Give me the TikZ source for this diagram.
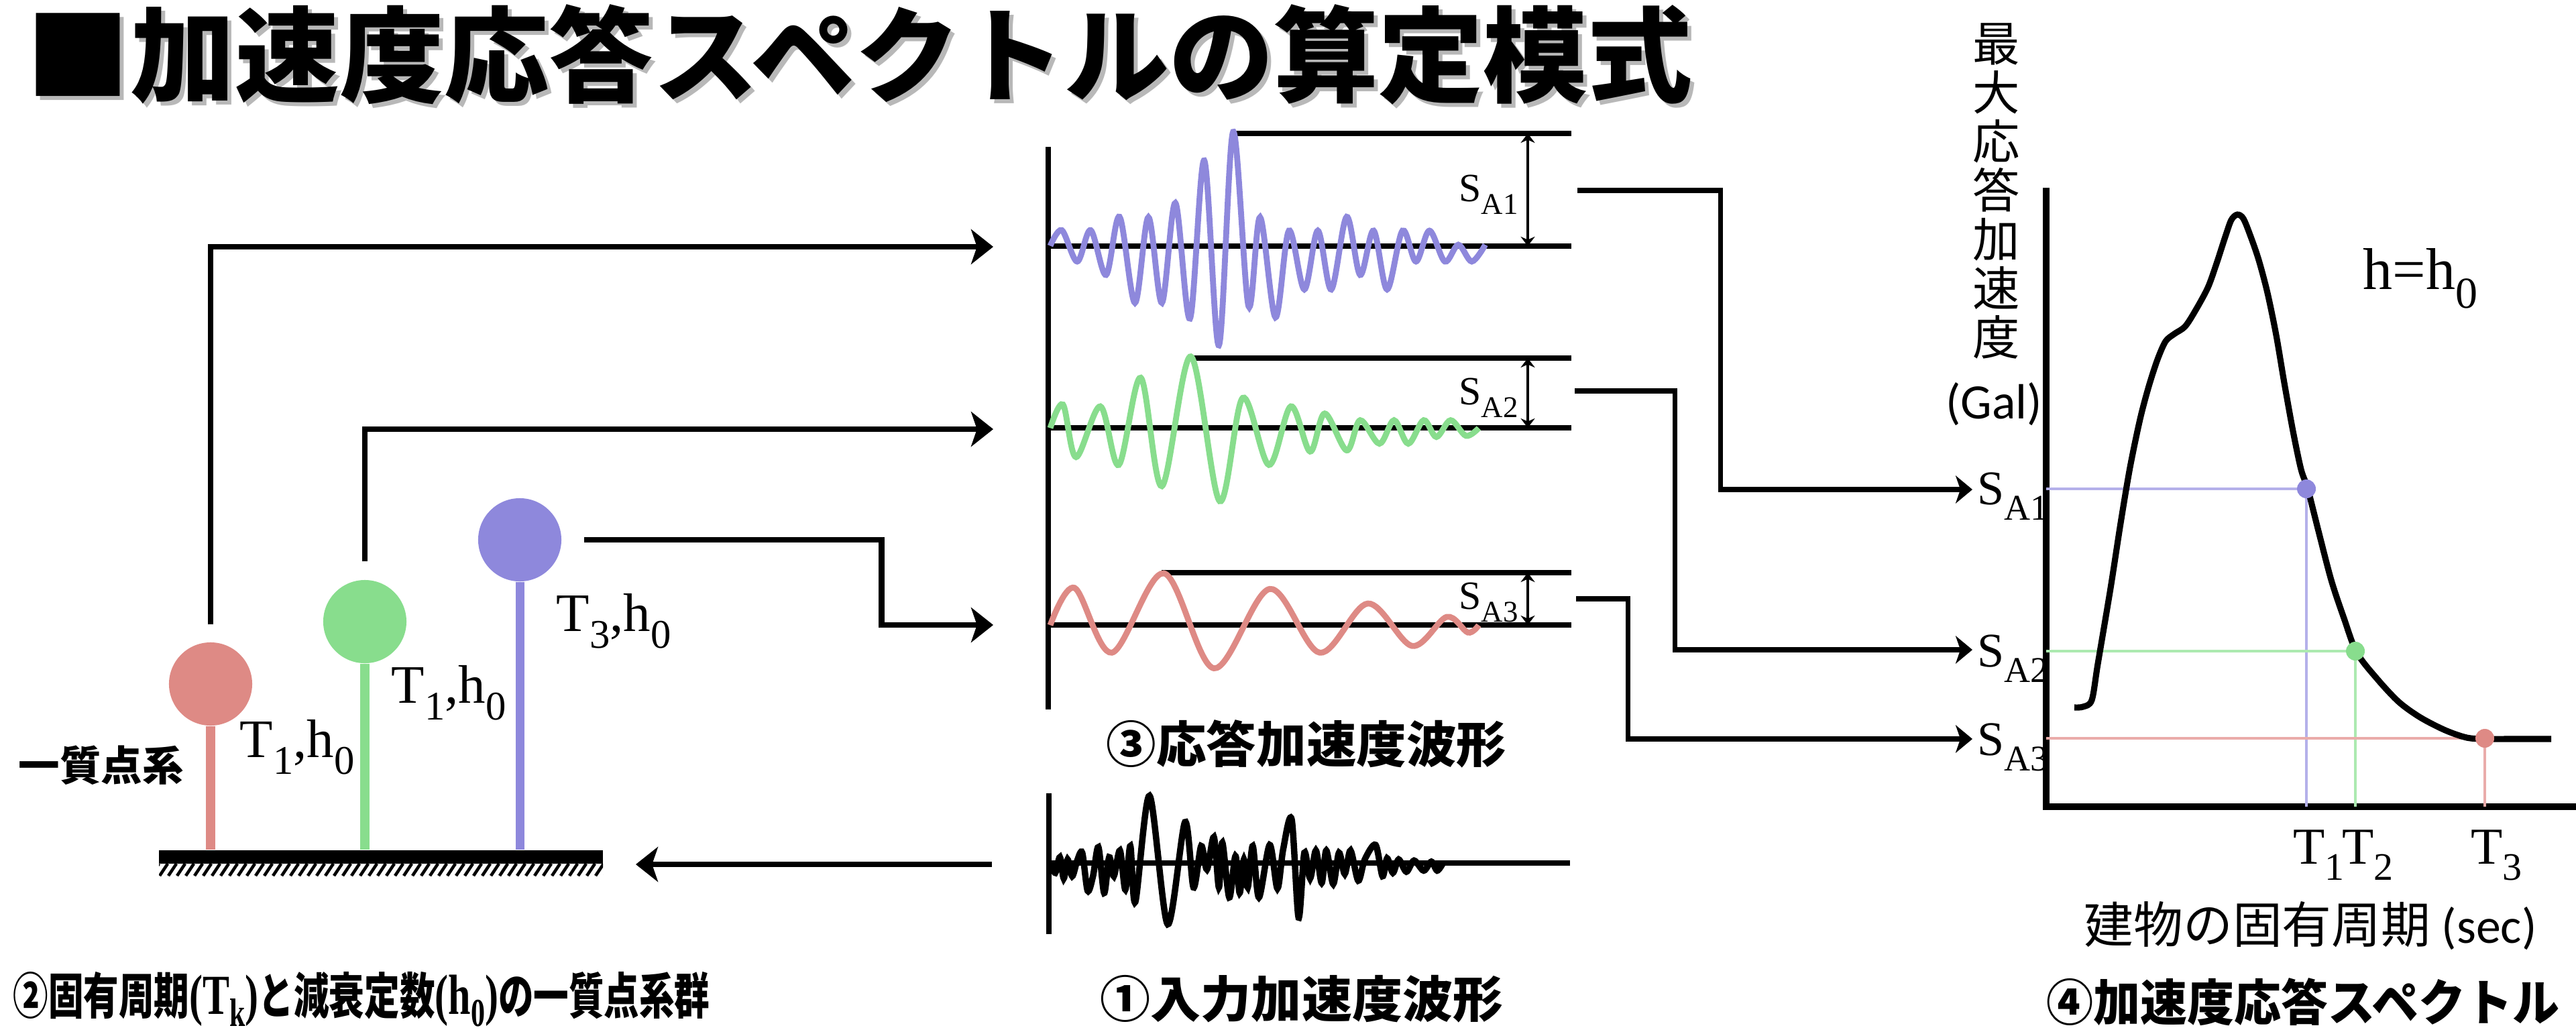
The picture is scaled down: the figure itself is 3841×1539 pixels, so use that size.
\documentclass[tikz,border=0pt]{standalone}
\usepackage{fontspec}
\usepackage{graphicx}
\setmainfont{Liberation Serif}
\newfontfamily\jp{Noto Sans CJK JP}
\newfontfamily\galfont{Carlito}
\usetikzlibrary{arrows.meta}
\definecolor{cred}{RGB}{222,138,133}
\definecolor{cgreen}{RGB}{136,221,141}
\definecolor{cblue}{RGB}{142,136,220}
\definecolor{lred}{RGB}{234,172,170}
\definecolor{lgreen}{RGB}{172,234,176}
\definecolor{lblue}{RGB}{180,176,234}
\newcommand\dn[1]{\raisebox{-0.32em}{\scalebox{0.75}{#1}}}
\newcommand\dnn[1]{\raisebox{-0.22em}{\scalebox{0.7}{#1}}}
\newcommand\sr[1]{{\rmfamily\fontsize{24}{24}\selectfont #1}}
\newcommand\labtwo{②固有周期\sr{(T\dnn{k})}と減衰定数\sr{(h\dnn{0})}の一質点系群}
\newlength\labw
\begin{document}
\settowidth{\labw}{\jp\bfseries\fontsize{21}{21}\selectfont \labtwo}%
\pgfmathsetmacro\labsx{10.38cm/\labw}%
\begin{tikzpicture}[x=0.01cm, y=-0.01cm,
  bigconn/.style={line width=2.5pt, -{Stealth[length=9.4pt,width=14.8pt,inset=2.5pt]}},
  sconn/.style={line width=2pt, -{Stealth[length=7.1pt,width=11.7pt,inset=2pt]}},
  plain/.style={line width=2.2pt},
  ball/.style={circle, inner sep=0pt, minimum size=1.24cm, fill=#1},
  stem/.style={line width=3.7pt, draw=#1},
  wave/.style={line width=2.5pt, draw=#1},
  dim/.style={line width=1.4pt, {Stealth[length=4pt,width=6pt]}-{Stealth[length=4pt,width=6pt]}},
  guide/.style={line width=1.4pt, draw=#1},
  lbl/.style={inner sep=0pt, anchor=base west},
  dot/.style={circle, inner sep=0pt, minimum size=0.28cm, fill=#1},
  jpb/.style={inner sep=0pt, font=\jp\bfseries\fontsize{21}{21}\selectfont}
]
\useasboundingbox (0,0) rectangle (3841,1539);

% ---------- title ----------
\node[inner sep=0pt, text=black!28, font=\jp\bfseries\fontsize{44}{44}\selectfont] (titleshadow) at (1287,87) {\resizebox{24.84cm}{\height}{■加速度応答スペクトルの算定模式}};
\node[inner sep=0pt, font=\jp\bfseries\fontsize{44}{44}\selectfont] (title) at (1281,81) {\resizebox{24.84cm}{\height}{■加速度応答スペクトルの算定模式}};

% ---------- one-mass systems ----------
\node[fill=black, inner sep=0pt, minimum width=6.62cm, minimum height=0.2cm] (gnd) at (568,1278) {};
\begin{scope}
  \clip (237,1288) rectangle (899,1306);
  \foreach \i in {225,238,...,910} \draw[line width=1.3pt] (\i,1306) -- (\i+12,1288);
\end{scope}
\node[ball=cred] (rb) at (314,1020) {};
\node[ball=cgreen] (gb) at (544,927) {};
\node[ball=cblue] (bb) at (775,805) {};
\draw[stem=cred] (rb.south) -- (rb.south |- gnd.north);
\draw[stem=cgreen] (gb.south) -- (gb.south |- gnd.north);
\draw[stem=cblue] (bb.south) -- (bb.south |- gnd.north);
\node[lbl, font=\fontsize{23}{23}\selectfont] (lr) at (357,1129) {T\dn{1},h\dn{0}};
\node[lbl, font=\fontsize{23}{23}\selectfont] (lg) at (583,1048) {T\dn{1},h\dn{0}};
\node[lbl, font=\fontsize{23}{23}\selectfont] (lb) at (829,941) {T\dn{3},h\dn{0}};
\node[inner sep=0pt, font=\jp\bfseries\fontsize{17.5}{17.5}\selectfont] (sdof) at (151,1141) {一質点系};

% connectors to response waves
\coordinate (w1in) at (1481,368);
\coordinate (w2in) at (1481,640);
\coordinate (w3in) at (1481,932);
\draw[bigconn] ([yshift=0.26cm]rb.north) |- (w1in);
\draw[bigconn] ([yshift=0.27cm]gb.north) |- (w2in);
\draw[bigconn] ([xshift=0.33cm]bb.east) -- ++(444,0) |- (w3in);

% ---------- response waves ----------
\draw[line width=2pt] (1563,219) -- (1563,1058);
\draw[plain] (1563,367) -- (2343,367);
\draw[plain] (1839,199) -- (2343,199);
\draw[plain] (1563,638) -- (2343,638);
\draw[plain] (1778,534) -- (2343,534);
\draw[plain] (1563,932) -- (2343,932);
\draw[plain] (1732,854) -- (2343,854);
\draw[dim] (2278,199) -- (2278,367);
\draw[dim] (2278,534) -- (2278,638);
\draw[dim] (2278,854) -- (2278,932);
\node[lbl, font=\fontsize{17}{17}\selectfont] (wsa1) at (2175,300) {S\dn{A1}};
\node[lbl, font=\fontsize{17}{17}\selectfont] (wsa2) at (2175,603) {S\dn{A2}};
\node[lbl, font=\fontsize{17}{17}\selectfont] (wsa3) at (2175,908) {S\dn{A3}};

\begin{scope}[shift={(1500,180)}, xscale=0.574, yscale=0.3333]
\draw[wave=cblue] plot[smooth, tension=0.55] coordinates {(115,560) (145,490) (185,630) (220,490) (260,690) (295,430) (335,815) (370,432) (405,815) (440,368) (478,885) (515,178) (553,1005) (590,50) (630,830) (660,432) (700,880) (735,492) (775,755) (810,492) (845,755) (885,430) (920,690) (955,492) (990,755) (1030,492) (1065,630) (1100,492) (1140,630) (1175,555) (1210,630) (1245,555)};
\end{scope}
\begin{scope}[shift={(1500,500)}, xscale=0.574, yscale=0.3333]
\draw[wave=cgreen] plot[smooth, tension=0.55] coordinates {(115,415) (148,310) (182,545) (245,318) (293,580) (350,190) (405,675) (480,95) (555,742) (615,280) (683,580) (740,318) (790,520) (828,350) (885,515) (920,380) (970,485) (1008,380) (1045,485) (1085,380) (1118,455) (1155,380) (1195,450) (1228,415)};
\draw[wave=cred] plot[smooth, tension=0.55] coordinates {(115,1297) (178,1130) (275,1420) (410,1065) (540,1490) (685,1135) (815,1420) (940,1200) (1055,1390) (1145,1260) (1200,1330) (1228,1297)};
\end{scope}
\node[jpb] (l3) at (1948,1109) {\resizebox{5.96cm}{\height}{③応答加速度波形}};

% ---------- input wave ----------
\draw[line width=2pt] (1564,1183) -- (1564,1393);
\draw[plain] (1564,1287) -- (2341,1287);
\begin{scope}[shift={(1500,1150)}, xscale=0.574, yscale=0.3333]
\draw[line width=2.7pt] plot[smooth, tension=0.5] coordinates {(118,412) (128,455) (140,385) (150,480) (160,395) (172,470) (185,400) (198,365) (212,535) (226,470) (240,340) (255,545) (268,385) (280,470) (296,355) (310,530) (323,335) (336,585) (373,110) (420,685) (465,228) (487,520) (507,335) (522,440) (540,295) (553,520) (562,320) (580,565) (596,380) (607,545) (618,395) (628,520) (641,335) (657,565) (685,330) (705,525) (720,350) (742,215) (760,655) (775,365) (790,480) (805,355) (820,500) (832,355) (850,505) (865,365) (880,460) (895,355) (915,490) (932,395) (960,330) (978,470) (990,390) (1005,455) (1020,395) (1040,450) (1060,400) (1085,445) (1105,405) (1120,445) (1135,412)};
\end{scope}
\coordinate (inL) at (1479,1289);
\coordinate (gtip) at (948,1289);
\draw[bigconn] (inL) -- (gtip);
\node[jpb] (l1) at (1941,1490) {\resizebox{6.0cm}{\height}{①入力加速度波形}};
\node[jpb] (l2) at (539,1490) {\scalebox{\labsx}[1]{\labtwo}};

% ---------- spectrum ----------
\draw[line width=2.6pt] (3051,280) -- (3051,1203) -- (3841,1203);
\draw[guide=lblue] (3051,729) -| (3439,1203);
\draw[guide=lgreen] (3051,971) -| (3512,1203);
\draw[guide=lred] (3051,1101) -| (3705,1203);
\draw[line width=2.6pt] plot[smooth, tension=0.5] coordinates {(3093,1055) (3106,1054) (3119,1044) (3128,990) (3147,877) (3162,780) (3176,697) (3191,625) (3204,576) (3217,536) (3229,509) (3242,498) (3258,487) (3273,464) (3292,429) (3305,393) (3318,353) (3327,328) (3336,320) (3345,326) (3356,353) (3368,388) (3381,437) (3394,500) (3406,571) (3419,643) (3431,700) (3441,729) (3457,792) (3476,865) (3495,922) (3514,973) (3545,1013) (3577,1047) (3609,1070) (3646,1089) (3678,1100) (3705,1102) (3748,1102) (3804,1102)};
\node[dot=cblue] (d1) at (3439,729) {};
\node[dot=cgreen] (d2) at (3512,971) {};
\node[dot=cred] (d3) at (3705,1101) {};

\node[lbl, font=\fontsize{20.5}{20.5}\selectfont] (sa1) at (2948,752) {S\dn{A1}};
\node[lbl, font=\fontsize{20.5}{20.5}\selectfont] (sa2) at (2948,994) {S\dn{A2}};
\node[lbl, font=\fontsize{20.5}{20.5}\selectfont] (sa3) at (2948,1126) {S\dn{A3}};
\coordinate (sa1from) at (2352,284);
\coordinate (sa2from) at (2348,583);
\coordinate (sa3from) at (2350,893);
\coordinate (sa1in) at (2941,730);
\coordinate (sa2in) at (2941,969);
\coordinate (sa3in) at (2941,1102);
\draw[sconn] (sa1from) -- ++(213,0) |- (sa1in);
\draw[sconn] (sa2from) -- ++(149,0) |- (sa2in);
\draw[sconn] (sa3from) -- ++(77,0) |- (sa3in);

\node[lbl, font=\fontsize{22}{22}\selectfont] (t1) at (3419,1288) {T\dn{1}};
\node[lbl, font=\fontsize{22}{22}\selectfont] (t2) at (3492,1288) {T\dn{2}};
\node[lbl, font=\fontsize{22}{22}\selectfont] (t3) at (3684,1288) {T\dn{3}};
\node[lbl, font=\fontsize{25}{25}\selectfont] (hh) at (3523,431) {h=h\dn{0}};

\node[inner sep=0pt, align=center, font=\jp\fontsize{20}{20.8}\selectfont] (ylab) at (2977,285) {最\\大\\応\\答\\加\\速\\度};
\node[inner sep=0pt, font=\galfont\fontsize{21}{21}\selectfont] (gal) at (2973,603) {(Gal)};
\node[inner sep=0pt, font=\jp\fontsize{21}{21}\selectfont] (xlab) at (3445,1381) {建物の固有周期 {\galfont (sec)}};
\node[jpb] (l4) at (3434,1494) {\resizebox{7.65cm}{\height}{④加速度応答スペクトル}};
\end{tikzpicture}
\end{document}
